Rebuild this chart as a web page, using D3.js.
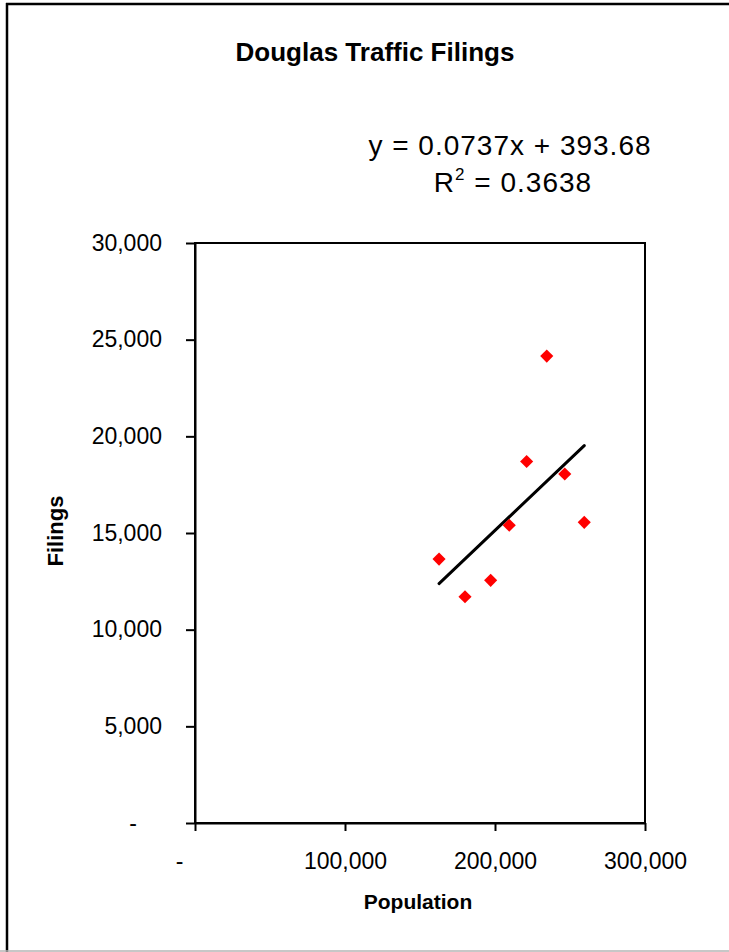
<!DOCTYPE html>
<html>
<head>
<meta charset="utf-8">
<script src="https://cdn.jsdelivr.net/npm/d3@7"></script>
<style>
  html, body { margin: 0; padding: 0; background: #fff; }
  svg { display: block; }
  text { font-family: "Liberation Sans", Arial, sans-serif; fill: #000; }
</style>
</head>
<body>
<svg id="chart" width="729" height="952"></svg>
<script>
// Douglas county: population vs. traffic filings
const population = [162700, 180000, 197100, 209500, 221100, 234500, 246500, 259500];
const filings    = [13650, 11700, 12550, 15400, 18700, 24150, 18050, 15550];

// Linear trendline as printed on the chart
const trendSlope = 0.0737;
const trendIntercept = 393.68;
const trendR2 = 0.3638;

const xTicks = [0, 100000, 200000, 300000];
const yTicks = [0, 5000, 10000, 15000, 20000, 25000, 30000];

const titleText = "Douglas Traffic Filings";
const xTitle = "Population";
const yTitle = "Filings";

const svg = d3.select("#chart");
const W = 729, H = 952;
const plot = { left: 195, top: 243, right: 645, bottom: 823 };

// chart area frame
svg.append("rect").attr("width", W).attr("height", H).attr("fill", "#fff");
svg.append("line").attr("x1", 6).attr("x2", W).attr("y1", 4).attr("y2", 4)
  .attr("stroke", "#000").attr("stroke-width", 2.5);
svg.append("line").attr("x1", 7).attr("x2", 7).attr("y1", 3).attr("y2", H)
  .attr("stroke", "#000").attr("stroke-width", 2.5);
svg.append("line").attr("x1", 0).attr("x2", W).attr("y1", 951).attr("y2", 951)
  .attr("stroke", "#b4b4b4").attr("stroke-width", 1.5);

const x = d3.scaleLinear().domain([0, 300000]).range([plot.left, plot.right]);
const y = d3.scaleLinear().domain([0, 30000]).range([plot.bottom, plot.top]);

const fmt = d3.format(",");
const tickFmt = d => d === 0 ? "-" : fmt(d);

// plot area box
svg.append("rect")
  .attr("x", plot.left).attr("y", plot.top)
  .attr("width", plot.right - plot.left).attr("height", plot.bottom - plot.top)
  .attr("fill", "#fff").attr("stroke", "#000").attr("stroke-width", 2);

// x axis
const gx = svg.append("g")
  .attr("transform", `translate(0,${plot.bottom})`)
  .call(d3.axisBottom(x).tickValues(xTicks).tickFormat(tickFmt).tickSize(8).tickSizeOuter(0));
gx.select(".domain").attr("stroke-width", 2);
gx.selectAll(".tick line").attr("stroke-width", 2);
gx.selectAll(".tick text")
  .attr("font-size", 23).attr("font-family", "Liberation Sans, Arial, sans-serif")
  .attr("y", 46).attr("dy", 0)
  .attr("dx", d => d === 0 ? -16 : 0);

// y axis
const gy = svg.append("g")
  .attr("transform", `translate(${plot.left},0)`)
  .call(d3.axisLeft(y).tickValues(yTicks).tickFormat(tickFmt).tickSize(9).tickSizeOuter(0));
gy.select(".domain").attr("stroke-width", 2);
gy.selectAll(".tick line").attr("stroke-width", 2);
gy.selectAll(".tick text")
  .attr("font-size", 23).attr("font-family", "Liberation Sans, Arial, sans-serif")
  .attr("x", d => d === 0 ? -58 : -33).attr("dy", 7);

// trendline over the range of the data
const xMin = d3.min(population), xMax = d3.max(population);
svg.append("line")
  .attr("x1", x(xMin)).attr("y1", y(trendSlope * xMin + trendIntercept))
  .attr("x2", x(xMax)).attr("y2", y(trendSlope * xMax + trendIntercept))
  .attr("stroke", "#000").attr("stroke-width", 3).attr("stroke-linecap", "round");

// data markers (diamonds)
const diamond = d3.symbol().type(d3.symbolSquare).size(86);
svg.append("g").selectAll("path")
  .data(population.map((p, i) => [p, filings[i]]))
  .join("path")
  .attr("d", diamond)
  .attr("transform", d => `translate(${x(d[0])},${y(d[1])}) rotate(45)`)
  .attr("fill", "#ff0000");

// titles
svg.append("text").attr("x", 375).attr("y", 61)
  .attr("text-anchor", "middle").attr("font-size", 26).attr("font-weight", "bold")
  .text(titleText);

svg.append("text").attr("x", 418).attr("y", 909)
  .attr("text-anchor", "middle").attr("font-size", 21).attr("font-weight", "bold")
  .text(xTitle);

svg.append("text")
  .attr("transform", `translate(63,531) rotate(-90)`)
  .attr("text-anchor", "middle").attr("font-size", 22).attr("font-weight", "bold")
  .text(yTitle);

// trendline equation
svg.append("text").attr("x", 510).attr("y", 155)
  .attr("text-anchor", "middle").attr("font-size", 28).attr("letter-spacing", 1)
  .text(`y = ${trendSlope}x + ${trendIntercept}`);

const r2 = svg.append("text").attr("x", 513).attr("y", 192)
  .attr("text-anchor", "middle").attr("font-size", 28).attr("letter-spacing", 1);
r2.append("tspan").text("R");
r2.append("tspan").attr("font-size", 17).attr("dy", -12).text("2");
r2.append("tspan").attr("dy", 12).text(` = ${trendR2}`);
</script>
</body>
</html>
